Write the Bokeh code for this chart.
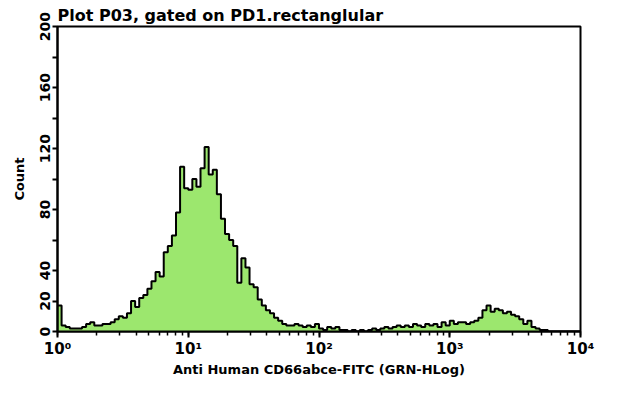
import numpy as np
from bokeh.plotting import figure
from bokeh.models import FixedTicker, LogTicker, Range1d, Title
from bokeh.embed import file_html
from bokeh.resources import INLINE

# ---- data ----
bins_per_decade = 32
decades = 4
counts = [17, 4, 3, 2, 2, 2, 3, 5, 6, 4,
          4, 5, 5, 6, 8, 10, 9, 12, 20, 16,
          22, 24, 28, 33, 39, 36, 52, 56, 63, 78,
          108, 94, 93, 100, 95, 107, 121, 103, 106, 90,
          74, 64, 60, 56, 32, 48, 42, 31, 29, 21,
          17, 14, 12, 9, 7, 5, 4, 4, 5, 4,
          3, 4, 3, 5, 2, 1, 3, 2, 3, 1,
          1, 0, 1, 0, 1, 0, 1, 2, 1, 2,
          3, 2, 3, 4, 3, 4, 3, 5, 4, 3,
          5, 4, 5, 3, 6, 4, 7, 5, 6, 6,
          5, 6, 7, 9, 14, 17, 13, 15, 14, 12,
          13, 11, 10, 8, 5, 7, 3, 2, 1, 1,
          0, 0, 0, 0, 0, 0, 0, 0]
y_ticks = [0, 20, 40, 60, 80, 100, 120, 140, 160, 180, 200]
y_labels = {0: "0", 20: "20", 40: "40", 60: "", 80: "80", 100: "", 120: "120",
            140: "", 160: "160", 180: "", 200: "200"}
x_labels = {1: "10\u2070", 10: "10\u00b9", 100: "10\u00b2", 1000: "10\u00b3", 10000: "10\u2074"}
title_text = "Plot P03, gated on PD1.rectanglular"
x_title = "Anti Human CD66abce-FITC (GRN-HLog)"
y_title = "Count"

n = len(counts)
edges = 10 ** (np.arange(n + 1) / bins_per_decade)
cnt = np.array(counts, dtype=float)

FONT = "DejaVu Sans"

p = figure(width=624, height=379, x_axis_type="log",
           x_range=Range1d(1, 10 ** decades), y_range=Range1d(0, 200),
           output_backend="svg", toolbar_location=None,
           min_border_left=57, min_border_right=44, min_border_top=26,
           min_border_bottom=41)
p.title = Title(text=title_text, align="left", text_font=FONT,
                text_font_size="16px", text_font_style="bold",
                text_color="black", offset=0, standoff=3)
p.grid.visible = False
p.background_fill_color = "white"
p.border_fill_color = "white"
p.outline_line_color = "black"
p.outline_line_width = 2

xs = np.repeat(edges, 2)[1:-1]
ys = np.repeat(cnt, 2)
px = np.concatenate([[edges[0]], xs, [edges[-1]]])
py = np.concatenate([[0], ys, [0]])
p.patch(px, py, fill_color="#9ce76e", line_color=None)
p.line(px, py, line_color="black", line_width=2)

# axes styling
for ax in (p.xaxis[0], p.yaxis[0]):
    ax.axis_line_color = "black"
    ax.axis_line_width = 2
    ax.major_tick_line_color = "black"
    ax.major_tick_line_width = 2
    ax.minor_tick_line_color = "black"
    ax.minor_tick_line_width = 1.5
    ax.major_tick_in = 0
    ax.minor_tick_in = 0
    ax.major_label_text_font = FONT
    ax.major_label_text_font_style = "bold"
    ax.major_label_text_color = "black"
    ax.axis_label_text_font = FONT
    ax.axis_label_text_font_style = "bold"
    ax.axis_label_text_color = "black"

p.xaxis.ticker = LogTicker(desired_num_ticks=5, num_minor_ticks=10)
p.xaxis.major_label_overrides = x_labels
p.xaxis.major_tick_out = 6
p.xaxis.minor_tick_out = 4
p.xaxis.major_label_text_font_size = "15px"
p.xaxis.axis_label = x_title
p.xaxis.axis_label_text_font_size = "13px"
p.xaxis.axis_label_standoff = 1
p.xaxis.major_label_standoff = 2

p.yaxis.ticker = FixedTicker(ticks=y_ticks)
p.yaxis.major_label_overrides = y_labels
p.yaxis.major_label_orientation = "vertical"
p.yaxis.major_tick_out = 5
p.yaxis.minor_tick_out = 0
p.yaxis.major_label_text_font_size = "14px"
p.yaxis.axis_label = y_title
p.yaxis.axis_label_text_font_size = "13px"
p.yaxis.axis_label_standoff = 10
p.yaxis.major_label_standoff = 3

open("out.html", "w").write(file_html(p, INLINE))
